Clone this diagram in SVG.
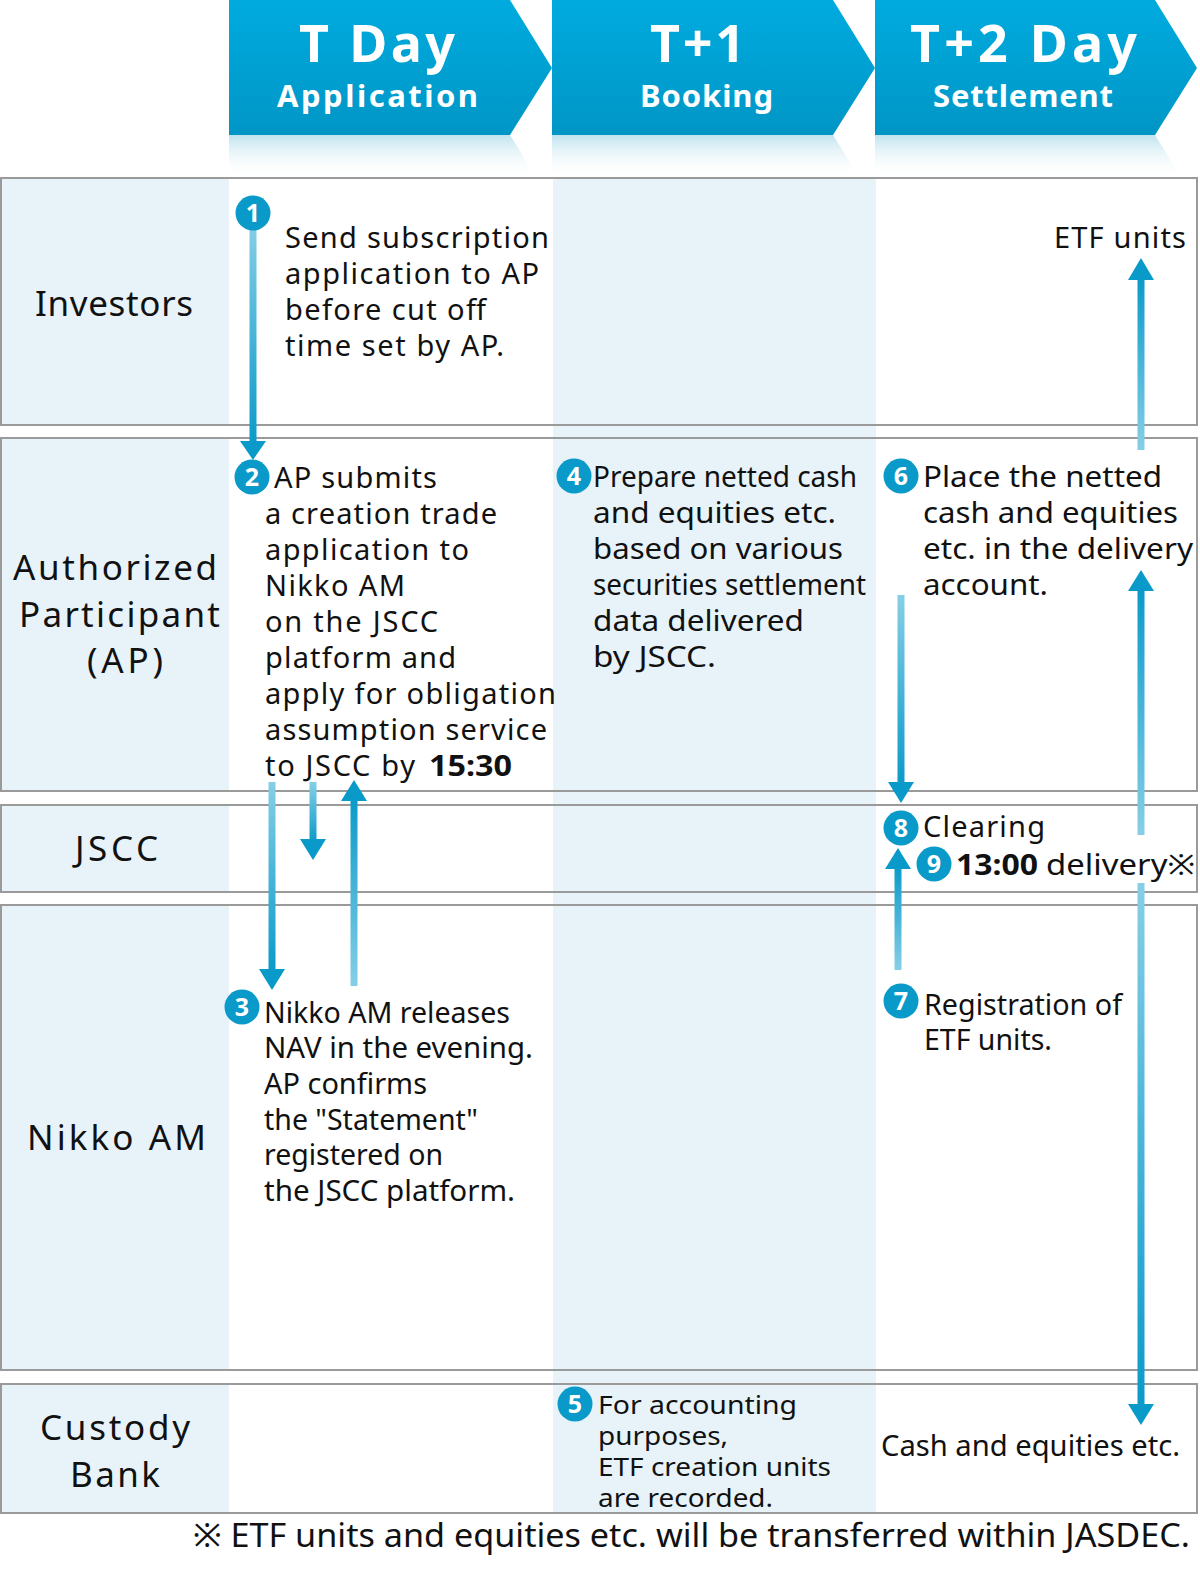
<svg xmlns="http://www.w3.org/2000/svg" width="1200" height="1571" viewBox="0 0 1200 1571">
<defs>
<linearGradient id="hdr" x1="0" y1="0" x2="0" y2="1"><stop offset="0" stop-color="#00abdf"/><stop offset="1" stop-color="#0096c6"/></linearGradient>
<linearGradient id="refl" x1="0" y1="0" x2="0" y2="1"><stop offset="0" stop-color="#bfe3ef"/><stop offset="1" stop-color="#ffffff" stop-opacity="0"/></linearGradient>
<linearGradient id="gDown" x1="0" y1="0" x2="0" y2="1"><stop offset="0" stop-color="#86cfe6"/><stop offset="1" stop-color="#0a9ac9"/></linearGradient>
<linearGradient id="gUp" x1="0" y1="0" x2="0" y2="1"><stop offset="0" stop-color="#0a9ac9"/><stop offset="1" stop-color="#86cfe6"/></linearGradient>
<style>
text{font-family:"Noto Sans","Open Sans",sans-serif;fill:#111}
.hd{font-weight:bold;fill:#fff;text-anchor:middle}
.h1{font-size:52px}
.h2{font-size:31px}
.lab{font-size:35px;text-anchor:middle}
.t{font-size:29px}
.tc{font-size:26px}
.b{font-weight:bold}
.row{fill:none;stroke:#9a9a9a;stroke-width:2}
.lf{fill:#e7f3f9}
.num{font-size:25px;font-weight:bold;fill:#fff;text-anchor:middle}
.cir{fill:#0a9ac9}
.ah{fill:#0a9ac9}
</style>
</defs>
<rect width="1200" height="1571" fill="#fff"/>
<!-- column fill T+1 -->
<rect x="553" y="177" width="323" height="1336" class="lf"/>
<!-- header -->
<g id="header">
<polygon points="229,135 510,135 536,177 229,177" fill="url(#refl)"/>
<polygon points="552,135 833,135 859,177 552,177" fill="url(#refl)"/>
<polygon points="875,135 1155,135 1181,177 875,177" fill="url(#refl)"/>
<g id="hdr-t"><polygon points="229,0 510,0 552,68 510,135 229,135" fill="url(#hdr)"/>
<text class="hd h1" x="377" y="62" textLength="156" lengthAdjust="spacing">T Day</text>
<text class="hd h2" x="377.5" y="107" textLength="201" lengthAdjust="spacing">Application</text></g>
<g id="hdr-t1"><polygon points="552,0 833,0 875,68 833,135 552,135" fill="url(#hdr)"/>
<text class="hd h1" x="697.5" y="62" textLength="95" lengthAdjust="spacing">T+1</text>
<text class="hd h2" x="706.5" y="107" textLength="133" lengthAdjust="spacing">Booking</text></g>
<g id="hdr-t2"><polygon points="875,0 1155,0 1197,68 1155,135 875,135" fill="url(#hdr)"/>
<text class="hd h1" x="1023.5" y="62" textLength="227" lengthAdjust="spacing">T+2 Day</text>
<text class="hd h2" x="1023" y="107" textLength="180" lengthAdjust="spacing">Settlement</text></g>
</g>
<!-- lanes -->
<g id="lane-investors">
<rect x="2" y="179" width="227" height="245" class="lf"/>
<rect x="1" y="178" width="1196" height="247" class="row"/>
<text class="lab" x="114" y="316" textLength="158" lengthAdjust="spacing">Investors</text>
</g>
<g id="lane-ap">
<rect x="2" y="439" width="227" height="351" class="lf"/>
<rect x="1" y="438" width="1196" height="353" class="row"/>
<text class="lab" x="115" y="580" textLength="204" lengthAdjust="spacing">Authorized</text>
<text class="lab" x="119.5" y="627" textLength="201" lengthAdjust="spacing">Participant</text>
<text class="lab" x="125" y="673" textLength="76" lengthAdjust="spacing">(AP)</text>
</g>
<g id="lane-jscc">
<rect x="2" y="806" width="227" height="85" class="lf"/>
<rect x="1" y="805" width="1196" height="87" class="row"/>
<text class="lab" x="116.5" y="861" textLength="83" lengthAdjust="spacing">JSCC</text>
</g>
<g id="lane-nikko">
<rect x="2" y="906" width="227" height="463" class="lf"/>
<rect x="1" y="905" width="1196" height="465" class="row"/>
<text class="lab" x="116.5" y="1150" textLength="179" lengthAdjust="spacing">Nikko AM</text>
</g>
<g id="lane-custody">
<rect x="2" y="1385" width="227" height="127" class="lf"/>
<rect x="1" y="1384" width="1196" height="129" class="row"/>
<text class="lab" x="115" y="1440" textLength="150" lengthAdjust="spacing">Custody</text>
<text class="lab" x="115" y="1487" textLength="90" lengthAdjust="spacing">Bank</text>
</g>
<!-- connectors -->
<g id="connectors">
<rect x="249.5" y="222" width="7" height="222" fill="url(#gDown)"/><polygon class="ah" points="240,441 266,441 253,460"/>
<rect x="268.5" y="782" width="7" height="190" fill="url(#gDown)"/><polygon class="ah" points="259,969 285,969 272,990"/>
<rect x="309.5" y="782" width="7" height="60" fill="url(#gDown)"/><polygon class="ah" points="300,839 326,839 313,860"/>
<rect x="350.5" y="799" width="7" height="187" fill="url(#gUp)"/><polygon class="ah" points="341,801 367,801 354,780"/>
<rect x="1137.5" y="277" width="7" height="173" fill="url(#gUp)"/><polygon class="ah" points="1128,280 1154,280 1141,258"/>
<rect x="897.5" y="595" width="7" height="190" fill="url(#gDown)"/><polygon class="ah" points="888,782 914,782 901,803"/>
<rect x="1137.5" y="588" width="7" height="247" fill="url(#gUp)"/><polygon class="ah" points="1128,591 1154,591 1141,570"/>
<rect x="894.5" y="866" width="7" height="104" fill="url(#gUp)"/><polygon class="ah" points="885,869 911,869 898,848"/>
<rect x="1137.5" y="883" width="7" height="524" fill="url(#gDown)"/><polygon class="ah" points="1128,1404 1154,1404 1141,1425"/>
</g>
<!-- step nodes -->
<g id="step1"><circle class="cir" cx="253" cy="213" r="17.5"/><text class="num" x="253" y="222">1</text>
<text class="t" x="285" y="248" textLength="264" lengthAdjust="spacing">Send subscription</text>
<text class="t" x="285" y="284" textLength="254" lengthAdjust="spacing">application to AP</text>
<text class="t" x="285" y="320" textLength="201" lengthAdjust="spacing">before cut off</text>
<text class="t" x="285" y="356" textLength="219" lengthAdjust="spacing">time set by AP.</text></g>
<g id="step2"><circle class="cir" cx="252" cy="477" r="17.5"/><text class="num" x="252" y="486">2</text>
<text class="t" x="274" y="488" textLength="163" lengthAdjust="spacing">AP submits</text>
<text class="t" x="265" y="524" textLength="232" lengthAdjust="spacing">a creation trade</text>
<text class="t" x="265" y="560" textLength="204" lengthAdjust="spacing">application to</text>
<text class="t" x="265" y="596" textLength="140" lengthAdjust="spacing">Nikko AM</text>
<text class="t" x="265" y="632" textLength="173" lengthAdjust="spacing">on the JSCC</text>
<text class="t" x="265" y="668" textLength="191" lengthAdjust="spacing">platform and</text>
<text class="t" x="265" y="704" textLength="291" lengthAdjust="spacing">apply for obligation</text>
<text class="t" x="265" y="740" textLength="282" lengthAdjust="spacing">assumption service</text>
<text class="t" x="265" y="776" textLength="150" lengthAdjust="spacing">to JSCC by</text>
<text class="t b" x="429" y="776" textLength="83" lengthAdjust="spacingAndGlyphs">15:30</text></g>
<g id="step3"><circle class="cir" cx="242" cy="1007" r="17.5"/><text class="num" x="242" y="1016">3</text>
<text class="t" x="264" y="1023" textLength="246" lengthAdjust="spacingAndGlyphs">Nikko AM releases</text>
<text class="t" x="264" y="1058" textLength="269" lengthAdjust="spacingAndGlyphs">NAV in the evening.</text>
<text class="t" x="264" y="1094" textLength="163" lengthAdjust="spacingAndGlyphs">AP confirms</text>
<text class="t" x="264" y="1130" textLength="214" lengthAdjust="spacingAndGlyphs">the "Statement"</text>
<text class="t" x="264" y="1165" textLength="179" lengthAdjust="spacingAndGlyphs">registered on</text>
<text class="t" x="264" y="1201" textLength="251" lengthAdjust="spacingAndGlyphs">the JSCC platform.</text></g>
<g id="step4"><circle class="cir" cx="574" cy="476" r="17.5"/><text class="num" x="574" y="485">4</text>
<text class="t" x="593" y="487" textLength="264" lengthAdjust="spacingAndGlyphs">Prepare netted cash</text>
<text class="t" x="593" y="523" textLength="243" lengthAdjust="spacingAndGlyphs">and equities etc.</text>
<text class="t" x="593" y="559" textLength="250" lengthAdjust="spacingAndGlyphs">based on various</text>
<text class="t" x="593" y="595" textLength="273" lengthAdjust="spacingAndGlyphs">securities settlement</text>
<text class="t" x="593" y="631" textLength="211" lengthAdjust="spacingAndGlyphs">data delivered</text>
<text class="t" x="593" y="667" textLength="123" lengthAdjust="spacingAndGlyphs">by JSCC.</text></g>
<g id="step5"><circle class="cir" cx="575" cy="1404" r="17.5"/><text class="num" x="575" y="1413">5</text>
<text class="tc" x="598" y="1414" textLength="199" lengthAdjust="spacingAndGlyphs">For accounting</text>
<text class="tc" x="598" y="1445" textLength="130" lengthAdjust="spacingAndGlyphs">purposes,</text>
<text class="tc" x="598" y="1476" textLength="233" lengthAdjust="spacingAndGlyphs">ETF creation units</text>
<text class="tc" x="598" y="1507" textLength="175" lengthAdjust="spacingAndGlyphs">are recorded.</text></g>
<g id="step6"><circle class="cir" cx="901" cy="476" r="17.5"/><text class="num" x="901" y="485">6</text>
<text class="t" x="923" y="487" textLength="239" lengthAdjust="spacingAndGlyphs">Place the netted</text>
<text class="t" x="923" y="523" textLength="255" lengthAdjust="spacingAndGlyphs">cash and equities</text>
<text class="t" x="923" y="559" textLength="270" lengthAdjust="spacingAndGlyphs">etc. in the delivery</text>
<text class="t" x="923" y="595" textLength="125" lengthAdjust="spacingAndGlyphs">account.</text></g>
<g id="step7"><circle class="cir" cx="901" cy="1001" r="17.5"/><text class="num" x="901" y="1010">7</text>
<text class="t" x="924" y="1015" textLength="198" lengthAdjust="spacingAndGlyphs">Registration of</text>
<text class="t" x="924" y="1050" textLength="128" lengthAdjust="spacingAndGlyphs">ETF units.</text></g>
<g id="step8"><circle class="cir" cx="901" cy="828" r="17.5"/><text class="num" x="901" y="837">8</text>
<text class="t" x="923" y="837" textLength="122" lengthAdjust="spacing">Clearing</text></g>
<g id="step9"><circle class="cir" cx="934" cy="864" r="17.5"/><text class="num" x="934" y="873">9</text>
<text class="t b" x="956" y="875" textLength="82" lengthAdjust="spacingAndGlyphs">13:00</text>
<text class="t" x="1046" y="875" textLength="149" lengthAdjust="spacingAndGlyphs">delivery※</text></g>
<g id="etf-units"><text class="t" x="1186" y="248" text-anchor="end" textLength="132" lengthAdjust="spacing">ETF units</text></g>
<g id="cash-equities"><text class="t" x="881" y="1456" textLength="299" lengthAdjust="spacingAndGlyphs">Cash and equities etc.</text></g>
<g id="footnote"><text x="193" y="1547" font-size="33" textLength="997" lengthAdjust="spacingAndGlyphs">※ ETF units and equities etc. will be transferred within JASDEC.</text></g>
</svg>
